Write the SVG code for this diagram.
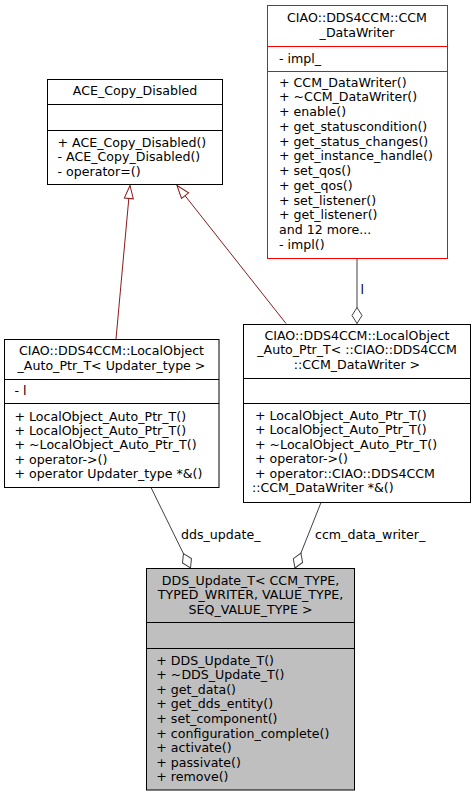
<svg xmlns="http://www.w3.org/2000/svg" width="476" height="797" viewBox="0 0 476 797">
<style>
text{font-family:"DejaVu Sans","Liberation Sans",sans-serif;font-size:12.6px;fill:#000}
.c{text-anchor:middle}
.box{fill:#fff;stroke:#000;stroke-width:1}
.red{fill:#fff;stroke:#ff0000;stroke-width:1}
.gray{fill:#bfbfbf;stroke:#000;stroke-width:1}
.ln{stroke:#000;stroke-width:1}
.lnr{stroke:#ff0000;stroke-width:1}
.inh{fill:none;stroke:#8b1a1a;stroke-width:1;marker-end:url(#tri)}
.agg{fill:none;stroke:#404040;stroke-width:1;marker-end:url(#dia)}
</style>
<defs>
<marker id="tri" viewBox="-15 -7 16 14" refX="0" refY="0" markerWidth="16" markerHeight="14" orient="auto" markerUnits="userSpaceOnUse">
<path d="M0,0 L-13,-4.5 L-13,4.5 Z" fill="#fff" stroke="#8b1a1a" stroke-width="1"/>
</marker>
<marker id="dia" viewBox="-17 -7 18 14" refX="0" refY="0" markerWidth="18" markerHeight="14" orient="auto" markerUnits="userSpaceOnUse">
<path d="M0,0 L-8,-5 L-16,0 L-8,5 Z" fill="#fff" stroke="#404040" stroke-width="1"/>
</marker>
</defs>
<g id="connectors">
<path class="inh" d="M116,339 L130,185.5"/>
<path class="inh" d="M286,323.5 L177,185.5"/>
<path class="agg" d="M357,258.5 L357,323.5"/>
<text x="360.5" y="293.5">l</text>
<path class="agg" d="M151,487.5 L190.5,568"/>
<text x="181" y="538.5">dds_update_</text>
<path class="agg" d="M321,502.5 L295,568"/>
<text x="315" y="539">ccm_data_writer_</text>
</g>
<g id="node_ccm_datawriter">
<rect class="red" x="267.5" y="5.5" width="180" height="253"/>
<line class="lnr" x1="267.5" y1="46.5" x2="447.5" y2="46.5"/>
<line class="lnr" x1="267.5" y1="71.5" x2="447.5" y2="71.5"/>
<text class="c" x="357" y="22">CIAO::DDS4CCM::CCM</text>
<text class="c" x="357" y="37">_DataWriter</text>
<text x="279" y="62.5">- impl_</text>
<text x="279" y="86.5">+ CCM_DataWriter()</text>
<text x="279" y="101.2">+ ~CCM_DataWriter()</text>
<text x="279" y="116">+ enable()</text>
<text x="279" y="130.7">+ get_statuscondition()</text>
<text x="279" y="145.5">+ get_status_changes()</text>
<text x="279" y="160.2">+ get_instance_handle()</text>
<text x="279" y="175">+ set_qos()</text>
<text x="279" y="189.7">+ get_qos()</text>
<text x="279" y="204.5">+ set_listener()</text>
<text x="279" y="219.2">+ get_listener()</text>
<text x="279" y="234">and 12 more...</text>
<text x="279" y="248.7">- impl()</text>
</g>
<g id="node_ace_copy_disabled">
<rect class="box" x="47.5" y="79.5" width="175" height="105"/>
<line class="ln" x1="47.5" y1="104.5" x2="222.5" y2="104.5"/>
<line class="ln" x1="47.5" y1="130.5" x2="222.5" y2="130.5"/>
<text class="c" x="135" y="95">ACE_Copy_Disabled</text>
<text x="57.5" y="146.5">+ ACE_Copy_Disabled()</text>
<text x="57.5" y="161.2">- ACE_Copy_Disabled()</text>
<text x="57.5" y="175.7">- operator=()</text>
</g>
<g id="node_localobject_updater">
<rect class="box" x="4.5" y="339.5" width="214.5" height="148"/>
<line class="ln" x1="4.5" y1="379.5" x2="219" y2="379.5"/>
<line class="ln" x1="4.5" y1="403.5" x2="219" y2="403.5"/>
<text class="c" x="111.5" y="355">CIAO::DDS4CCM::LocalObject</text>
<text class="c" x="111.5" y="369.5">_Auto_Ptr_T&lt; Updater_type &gt;</text>
<text x="14.5" y="395">- l</text>
<text x="14.5" y="420.5">+ LocalObject_Auto_Ptr_T()</text>
<text x="14.5" y="435">+ LocalObject_Auto_Ptr_T()</text>
<text x="14.5" y="449.4">+ ~LocalObject_Auto_Ptr_T()</text>
<text x="14.5" y="463.8">+ operator-&gt;()</text>
<text x="14.5" y="478.2">+ operator Updater_type *&amp;()</text>
</g>
<g id="node_localobject_ccm">
<rect class="box" x="243.5" y="324.5" width="227" height="178"/>
<line class="ln" x1="243.5" y1="378.5" x2="470.5" y2="378.5"/>
<line class="ln" x1="243.5" y1="403.5" x2="470.5" y2="403.5"/>
<text class="c" x="357" y="339.5">CIAO::DDS4CCM::LocalObject</text>
<text class="c" x="357" y="354.2">_Auto_Ptr_T&lt; ::CIAO::DDS4CCM</text>
<text class="c" x="357" y="368.8">::CCM_DataWriter &gt;</text>
<text x="255" y="419.5">+ LocalObject_Auto_Ptr_T()</text>
<text x="255" y="434">+ LocalObject_Auto_Ptr_T()</text>
<text x="255" y="448.5">+ ~LocalObject_Auto_Ptr_T()</text>
<text x="255" y="463">+ operator-&gt;()</text>
<text x="255" y="477.5">+ operator::CIAO::DDS4CCM</text>
<text x="252" y="492">::CCM_DataWriter *&amp;()</text>
</g>
<g id="node_dds_update">
<rect class="gray" x="146.5" y="568.5" width="208" height="221.5"/>
<line class="ln" x1="146.5" y1="622.5" x2="354.5" y2="622.5"/>
<line class="ln" x1="146.5" y1="648.5" x2="354.5" y2="648.5"/>
<text class="c" x="250.5" y="584.5">DDS_Update_T&lt; CCM_TYPE,</text>
<text class="c" x="250.5" y="599">TYPED_WRITER, VALUE_TYPE,</text>
<text class="c" x="250.5" y="613.5">SEQ_VALUE_TYPE &gt;</text>
<text x="156.3" y="664.5">+ DDS_Update_T()</text>
<text x="156.3" y="679.1">+ ~DDS_Update_T()</text>
<text x="156.3" y="693.7">+ get_data()</text>
<text x="156.3" y="708.3">+ get_dds_entity()</text>
<text x="156.3" y="722.9">+ set_component()</text>
<text x="156.3" y="737.5">+ configuration_complete()</text>
<text x="156.3" y="752.1">+ activate()</text>
<text x="156.3" y="766.7">+ passivate()</text>
<text x="156.3" y="781.3">+ remove()</text>
</g>
</svg>
